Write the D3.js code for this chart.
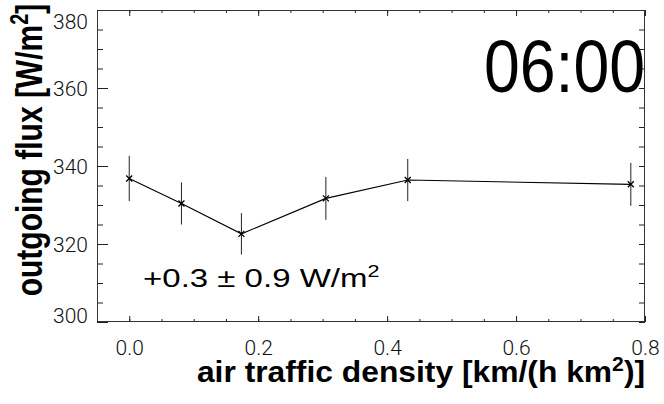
<!DOCTYPE html>
<html>
<head>
<meta charset="utf-8">
<script src="https://cdn.jsdelivr.net/npm/d3@7"></script>
<style>
  body { margin: 0; background: #fff; }
</style>
</head>
<body>
<svg id="chart"></svg>
<script>
// values
const density = [0.0, 0.081, 0.174, 0.305, 0.432, 0.778];
const flux = [336.8, 330.4, 322.6, 331.7, 336.4, 335.3];
const fluxErr = [5.8, 5.4, 5.3, 5.5, 5.4, 5.5];
const xTicks = [0.0, 0.2, 0.4, 0.6, 0.8];
const yTicks = [300, 320, 340, 360, 380];
const timeLabel = "06:00";
const trendLabel = "+0.3 \u00b1 0.9 W/m";

const width = 664, height = 404;
const plotLeft = 97, plotRight = 645, plotTop = 10, plotBottom = 322;
const tickFont = "Roboto, 'DejaVu Sans', sans-serif";
const boldFont = "Arial, 'Liberation Sans', Helvetica, sans-serif";

const x = d3.scaleLinear([-0.05, 0.8], [plotLeft, plotRight]);
const y = d3.scaleLinear([300, 380], [plotBottom, plotTop]);

const svg = d3.select("#chart")
  .attr("width", width)
  .attr("height", height)
  .attr("viewBox", `0 0 ${width} ${height}`);

svg.append("rect").attr("width", width).attr("height", height).attr("fill", "#fff");

const axisStyle = g => g
  .call(g => g.select(".domain").remove())
  .call(g => g.selectAll(".tick line").attr("stroke", "#222"));

// minor ticks (every 0.05 / every 5)
const xMinor = x.ticks(17), yMinor = y.ticks(16);

svg.append("g").attr("transform", `translate(0,${plotBottom})`)
  .call(d3.axisBottom(x).tickValues(xMinor).tickSize(-3).tickFormat(""))
  .call(axisStyle);
svg.append("g").attr("transform", `translate(0,${plotTop})`)
  .call(d3.axisTop(x).tickValues(xMinor).tickSize(-3).tickFormat(""))
  .call(axisStyle);
svg.append("g").attr("transform", `translate(${plotLeft},0)`)
  .call(d3.axisLeft(y).tickValues(yMinor).tickSize(-6).tickFormat(""))
  .call(axisStyle);
svg.append("g").attr("transform", `translate(${plotRight},0)`)
  .call(d3.axisRight(y).tickValues(yMinor).tickSize(-6).tickFormat(""))
  .call(axisStyle);

// major ticks with labels
svg.append("g").attr("transform", `translate(0,${plotBottom})`)
  .call(d3.axisBottom(x).tickValues(xTicks).tickSize(-6).tickPadding(18).tickFormat(d3.format(".1f")))
  .call(axisStyle)
  .call(g => g.selectAll(".tick text")
    .attr("font-family", tickFont).attr("font-weight", 300)
    .attr("font-size", 21).attr("fill", "#111"));
svg.append("g").attr("transform", `translate(0,${plotTop})`)
  .call(d3.axisTop(x).tickValues(xTicks).tickSize(-6).tickFormat(""))
  .call(axisStyle);
svg.append("g").attr("transform", `translate(${plotLeft},0)`)
  .call(d3.axisLeft(y).tickValues(yTicks).tickSize(-11).tickPadding(9))
  .call(axisStyle)
  .call(g => g.selectAll(".tick text")
    .attr("font-family", tickFont).attr("font-weight", 300)
    .attr("font-size", 21).attr("fill", "#111")
    .attr("dy", d => d === 380 ? "0.86em" : d === 300 ? "0" : "0.38em"));

// frame
svg.append("rect")
  .attr("x", plotLeft + 0.5).attr("y", plotTop + 0.5)
  .attr("width", plotRight - plotLeft - 1).attr("height", plotBottom - plotTop - 1)
  .attr("fill", "none").attr("stroke", "#333").attr("stroke-width", 1);

const data = density.map((d, i) => ({x: d, y: flux[i], e: fluxErr[i]}));

// error bars
svg.append("g")
  .selectAll("line")
  .data(data)
  .join("line")
  .attr("x1", d => x(d.x)).attr("x2", d => x(d.x))
  .attr("y1", d => y(d.y - d.e)).attr("y2", d => y(d.y + d.e))
  .attr("stroke", "#222").attr("stroke-width", 1);

// connecting line
svg.append("path")
  .datum(data)
  .attr("fill", "none")
  .attr("stroke", "#000")
  .attr("stroke-width", 1.1)
  .attr("d", d3.line().x(d => x(d.x)).y(d => y(d.y)));

// x markers
svg.append("g")
  .selectAll("path")
  .data(data)
  .join("path")
  .attr("transform", d => `translate(${x(d.x)},${y(d.y)})`)
  .attr("d", "M-3,-3L3,3M-3,3L3,-3")
  .attr("stroke", "#000").attr("stroke-width", 1.3);

// time label
svg.append("text")
  .attr("transform", "translate(484,92) scale(0.87,1)")
  .attr("font-family", boldFont)
  .attr("font-size", 74)
  .attr("fill", "#000")
  .text(timeLabel);

// trend annotation
const trend = svg.append("text")
  .attr("transform", "translate(143,287) scale(1.27,1)")
  .attr("font-family", boldFont)
  .attr("font-size", 26)
  .attr("fill", "#000");
trend.append("tspan").text(trendLabel);
trend.append("tspan").attr("font-size", 17).attr("dy", -10).text("2");

// y title
const yTitle = svg.append("text")
  .attr("transform", "translate(42,150) scale(1.25,1) rotate(-90)")
  .attr("text-anchor", "middle")
  .attr("font-family", boldFont)
  .attr("font-weight", "bold")
  .attr("font-size", 30)
  .attr("fill", "#000");
yTitle.append("tspan").text("outgoing flux [W/m");
yTitle.append("tspan").attr("font-size", 20).attr("dy", -11).text("2");
yTitle.append("tspan").attr("dy", 11).text("]");

// x title
const xTitle = svg.append("text")
  .attr("transform", "translate(421,382) scale(1.06,1)")
  .attr("text-anchor", "middle")
  .attr("font-family", boldFont)
  .attr("font-weight", "bold")
  .attr("font-size", 30)
  .attr("fill", "#000");
xTitle.append("tspan").text("air traffic density [km/(h km");
xTitle.append("tspan").attr("font-size", 20).attr("dy", -11).text("2");
xTitle.append("tspan").attr("dy", 11).text(")]");
</script>
</body>
</html>
